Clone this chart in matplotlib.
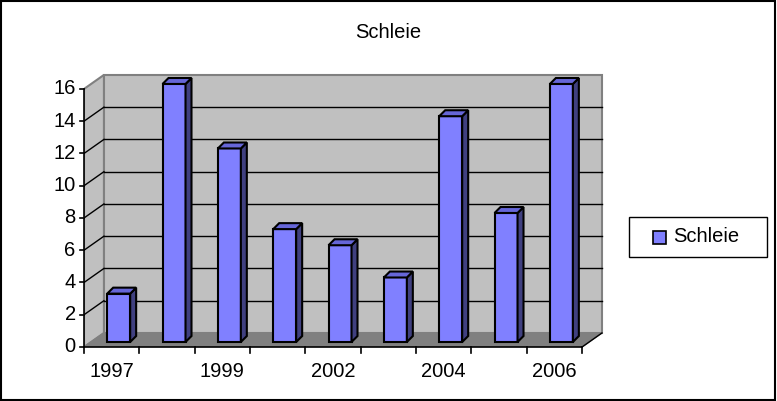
import matplotlib.pyplot as plt
from matplotlib.patches import Polygon, Rectangle

plt.rcParams['font.family'] = ['Liberation Sans', 'DejaVu Sans']

years = ['1997', '1998', '1999', '2001', '2002', '2003', '2004', '2005', '2006']
values = [3, 16, 12, 7, 6, 4, 14, 8, 16]
yticks = [0, 2, 4, 6, 8, 10, 12, 14, 16]
series_name = 'Schleie'

n = len(years)
# 3D look: offsets of back wall and bar depth, in data units
dx, dy = 0.36, 0.87
bdx, bdy = 0.127, 0.31
ddx, ddy = 0.108, 0.37
bw = 0.415
ymax = 16
fs = 14.5
bar_col = '#8080FF'

fig = plt.figure(figsize=(7.77, 4.01), dpi=100)
W, H = 777, 401
ax = fig.add_axes([84 / W, (H - 347) / H, (609.7 - 84) / W, (347 - 69.6) / H])
ax.set_xlim(-0.5, 9.0)
ax.set_ylim(0, 17.2)
ax.axis('off')

x0, x1 = -0.5, n - 0.5
# back wall, side wall, floor
ax.add_patch(Polygon([(x0 + dx, dy), (x1 + dx, dy), (x1 + dx, ymax + dy), (x0 + dx, ymax + dy)],
                     closed=True, fc='#C0C0C0', ec='#808080', lw=1.5, zorder=1))
ax.add_patch(Polygon([(x0, 0), (x0 + dx, dy), (x0 + dx, ymax + dy), (x0, ymax)],
                     closed=True, fc='#C0C0C0', ec='#808080', lw=1.5, zorder=1))
for v in yticks[1:-1]:
    ax.plot([x0 + dx, x1 + dx], [v + dy, v + dy], color='black', lw=1, zorder=2)
    ax.plot([x0, x0 + dx], [v, v + dy], color='black', lw=1, zorder=2)
ax.add_patch(Polygon([(x0, 0), (x1, 0), (x1 + dx, dy), (x0 + dx, dy)],
                     closed=True, fc='#808080', ec='#808080', lw=1, zorder=2))
ax.plot([x1, x1 + dx], [0, dy], color='black', lw=1, zorder=3, clip_on=False)

# axes lines and ticks
ax.plot([x0, x0], [0, ymax], color='black', lw=1.2, zorder=3, clip_on=False)
ax.plot([x0, x1], [0, 0], color='black', lw=1.2, zorder=3, clip_on=False)
for v in yticks:
    ax.plot([x0 - 0.08, x0], [v, v], color='black', lw=1.2, clip_on=False)
    ax.text(x0 - 0.15, v, str(v), ha='right', va='center', fontsize=fs)
for i in range(n + 1):
    ax.plot([x0 + i, x0 + i], [0, -0.4], color='black', lw=1.2, clip_on=False)
for i in range(0, n, 2):
    ax.text(i, -0.95, years[i], ha='center', va='top', fontsize=fs)

# bars
xs = [i + bdx for i in range(n)]
bars = ax.bar(xs, values, width=bw, bottom=bdy, color=bar_col, edgecolor='black',
              lw=1.5, zorder=4, label=series_name)
for x, v in zip(xs, values):
    xl, xr, top = x - bw / 2, x + bw / 2, v + bdy
    ax.add_patch(Polygon([(xr, bdy), (xr + ddx, bdy + ddy), (xr + ddx, top + ddy), (xr, top)],
                         closed=True, fc='#404080', ec='black', lw=1.5, zorder=4))
    ax.add_patch(Polygon([(xl, top), (xr, top), (xr + ddx, top + ddy), (xl + ddx, top + ddy)],
                         closed=True, fc='#6666D8', ec='black', lw=1.5, zorder=4))

fig.text(388 / W, 1 - 32 / H, series_name, ha='center', va='center', fontsize=fs)

# legend box drawn by hand to match the Excel layout
fig.patches.append(Rectangle((629 / W, 1 - 257 / H), 138 / W, 40 / H, transform=fig.transFigure,
                             fc='white', ec='black', lw=1))
fig.patches.append(Rectangle((653 / W, 1 - 244 / H), 13 / W, 13 / H, transform=fig.transFigure,
                             fc=bar_col, ec='black', lw=1.2))
fig.text(673 / W, 1 - 236 / H, series_name, ha='left', va='center', fontsize=fs)

fig.patches.append(Rectangle((0.001, 0.002), 0.997, 0.995, transform=fig.transFigure,
                             fill=False, ec='black', lw=1.5))

fig.savefig('out.png', dpi=100)
